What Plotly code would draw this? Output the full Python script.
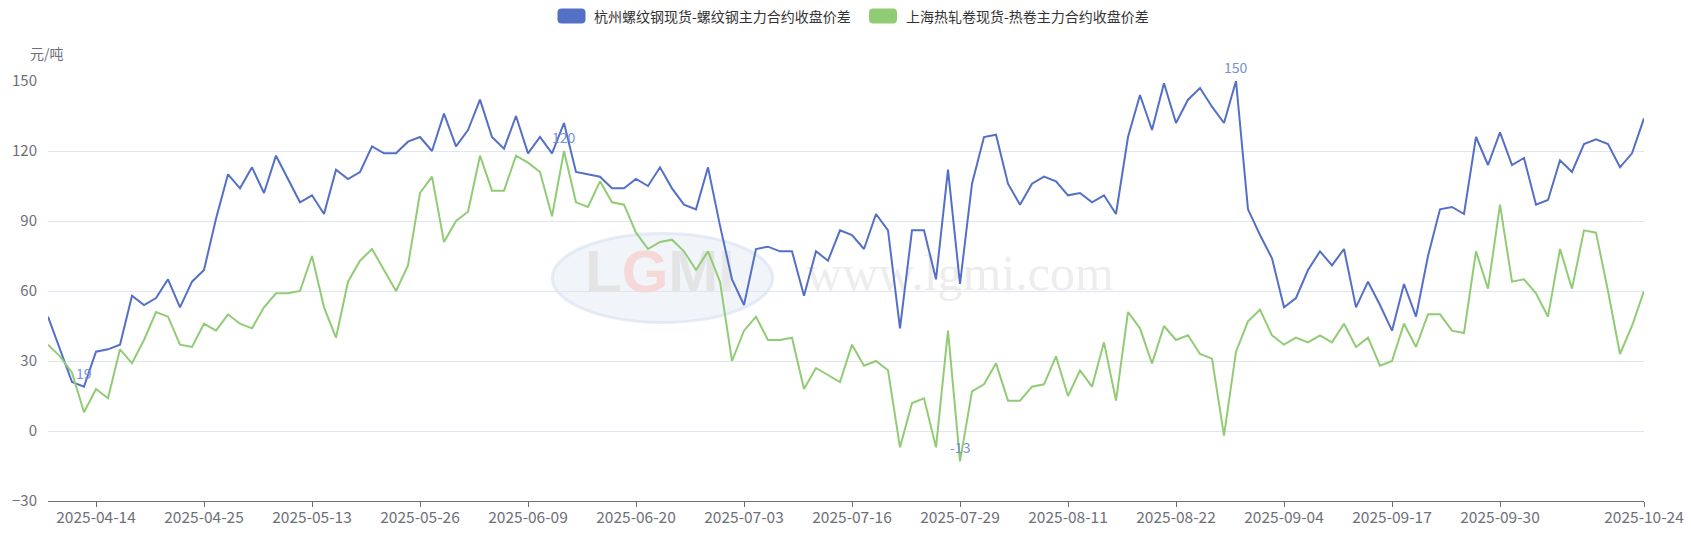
import pandas as pd
import plotly.graph_objects as go

# ---------------- data ----------------
holidays = ["2025-05-01", "2025-05-02", "2025-05-05", "2025-06-02",
            "2025-10-01", "2025-10-02", "2025-10-03", "2025-10-06",
            "2025-10-07", "2025-10-08"]
dates = [d.strftime("%Y-%m-%d") for d in pd.bdate_range("2025-04-08", "2025-10-24")
         if d.strftime("%Y-%m-%d") not in holidays]

rebar_spread = [49, 35, 21, 19, 34, 35, 37, 58, 54, 57,
                65, 53, 64, 69, 91, 110, 104, 113, 102, 118,
                108, 98, 101, 93, 112, 108, 111, 122, 119, 119,
                124, 126, 120, 136, 122, 129, 142, 126, 121, 135,
                119, 126, 119, 132, 111, 110, 109, 104, 104, 108,
                105, 113, 104, 97, 95, 113, 88, 65, 54, 78,
                79, 77, 77, 58, 77, 73, 86, 84, 78, 93,
                86, 44, 86, 86, 65, 112, 63, 106, 126, 127,
                106, 97, 106, 109, 107, 101, 102, 98, 101, 93,
                126, 144, 129, 149, 132, 142, 147, 139, 132, 150,
                95, 84, 74, 53, 57, 69, 77, 71, 78, 53,
                64, 54, 43, 63, 49, 75, 95, 96, 93, 126,
                114, 128, 114, 117, 97, 99, 116, 111, 123, 125,
                123, 113, 119, 134]

hrc_spread = [37, 32, 25, 8, 18, 14, 35, 29, 39, 51,
              49, 37, 36, 46, 43, 50, 46, 44, 53, 59,
              59, 60, 75, 53, 40, 64, 73, 78, 69, 60,
              71, 102, 109, 81, 90, 94, 118, 103, 103, 118,
              115, 111, 92, 120, 98, 96, 107, 98, 97, 85,
              78, 81, 82, 77, 69, 77, 64, 30, 43, 49,
              39, 39, 40, 18, 27, 24, 21, 37, 28, 30,
              26, -7, 12, 14, -7, 43, -13, 17, 20, 29,
              13, 13, 19, 20, 32, 15, 26, 19, 38, 13,
              51, 44, 29, 45, 39, 41, 33, 31, -2, 34,
              47, 52, 41, 37, 40, 38, 41, 38, 46, 36,
              40, 28, 30, 46, 36, 50, 50, 43, 42, 77,
              61, 97, 64, 65, 59, 49, 78, 61, 86, 85,
              60, 33, 45, 60]

series_names = ["杭州螺纹钢现货-螺纹钢主力合约收盘价差", "上海热轧卷现货-热卷主力合约收盘价差"]
series_colors = ["#5470C6", "#91CC75"]

x_tick_labels = ["2025-04-14", "2025-04-25", "2025-05-13", "2025-05-26", "2025-06-09",
                 "2025-06-20", "2025-07-03", "2025-07-16", "2025-07-29", "2025-08-11",
                 "2025-08-22", "2025-09-04", "2025-09-17", "2025-09-30", "2025-10-24"]
y_unit = "元/吨"

assert len(dates) == len(rebar_spread) == len(hrc_spread)

FONT = "Noto Sans CJK SC, Microsoft YaHei, sans-serif"
AXIS_GREY = "#6E7079"
LABEL_COLOR = "#7390DC"

fig = go.Figure()

# faint watermark (drawn first so it sits beneath the lines)
fig.add_trace(go.Scatter(
    x=[dates[51]], y=[66], mode="text",
    text=['<b><span style="color:#E4E4E4">L</span><span style="color:#F6D8D8">G</span>'
          '<span style="color:#E4E4E4">M</span><span style="color:#E8E8E8">I</span></b>'],
    textfont=dict(family="Liberation Sans", size=60, color="#E6E6E6"),
    hoverinfo="skip", showlegend=False, cliponaxis=False))
fig.add_trace(go.Scatter(
    x=[dates[76]], y=[66], mode="text", text=["www.lgmi.com"],
    textfont=dict(family="Liberation Serif", size=50, color="#EDEDED"),
    hoverinfo="skip", showlegend=False, cliponaxis=False))

for name, vals, col in zip(series_names, [rebar_spread, hrc_spread], series_colors):
    fig.add_trace(go.Scatter(
        x=dates, y=vals, mode="lines", name=name,
        line=dict(color=col, width=2), showlegend=False))

# max / min labels
annotations = []
for vals in [rebar_spread, hrc_spread]:
    for idx in [vals.index(max(vals)), vals.index(min(vals))]:
        annotations.append(dict(
            x=dates[idx], y=vals[idx], xref="x", yref="y", text=str(vals[idx]),
            showarrow=False, yshift=14,
            font=dict(family=FONT, size=14, color=LABEL_COLOR)))

# y unit
annotations.append(dict(
    x=-0.0005, y=1.0, xref="paper", yref="paper", text=y_unit, showarrow=False,
    xanchor="center", yanchor="bottom", yshift=16,
    font=dict(family=FONT, size=14, color=AXIS_GREY)))

# custom legend (rounded swatches + text)
shapes = []
LEG_Y = 1.1548
legend_pos = [(0.3280, 0.3407), (0.5232, 0.5363)]
rect_path = ("M -10 -7.5 L 10 -7.5 Q 14 -7.5 14 -3.5 L 14 3.5 Q 14 7.5 10 7.5 "
             "L -10 7.5 Q -14 7.5 -14 3.5 L -14 -3.5 Q -14 -7.5 -10 -7.5 Z")
for (sx, tx), name, col in zip(legend_pos, series_names, series_colors):
    shapes.append(dict(
        type="path", xref="paper", yref="paper", xsizemode="pixel", ysizemode="pixel",
        xanchor=sx, yanchor=LEG_Y, path=rect_path, fillcolor=col, line=dict(width=0)))
    annotations.append(dict(
        x=tx, y=LEG_Y, xref="paper", yref="paper", text=name, showarrow=False,
        xanchor="left", yanchor="middle",
        font=dict(family=FONT, size=14, color="#333333")))

# watermark ellipse
shapes.append(dict(
    type="circle", xref="paper", yref="paper", layer="below",
    x0=0.316, x1=0.454, y0=0.425, y1=0.637,
    fillcolor="rgba(225,232,245,0.45)", line=dict(color="rgba(215,224,242,0.6)", width=3)))

fig.update_layout(
    width=1691, height=534,
    margin=dict(l=48, r=47, t=81, b=33, autoexpand=False),
    plot_bgcolor="white", paper_bgcolor="white",
    font=dict(family=FONT, size=15, color=AXIS_GREY),
    showlegend=False,
    annotations=annotations,
    shapes=shapes,
    xaxis=dict(
        type="category", categoryorder="array", categoryarray=dates,
        range=[0, len(dates) - 1], automargin=False,
        tickmode="array", tickvals=x_tick_labels, ticktext=x_tick_labels,
        ticks="outside", ticklen=5, tickcolor=AXIS_GREY,
        showline=True, linecolor=AXIS_GREY, linewidth=1,
        showgrid=False, zeroline=False, ticklabelstandoff=-3,
        tickfont=dict(family=FONT, size=15.5, color=AXIS_GREY)),
    yaxis=dict(
        range=[-30, 150], tick0=-30, dtick=30, automargin=False,
        showgrid=True, gridcolor="#E0E6F1", gridwidth=1,
        zeroline=False, showline=False, ticks="",
        ticklabelstandoff=10,
        tickfont=dict(family=FONT, size=15, color=AXIS_GREY)),
)

# remove the default 8px page margin so the figure fills the window exactly
fig.write_html("out.html", config={"displayModeBar": False},
               post_script="document.body.style.margin='0px';")
